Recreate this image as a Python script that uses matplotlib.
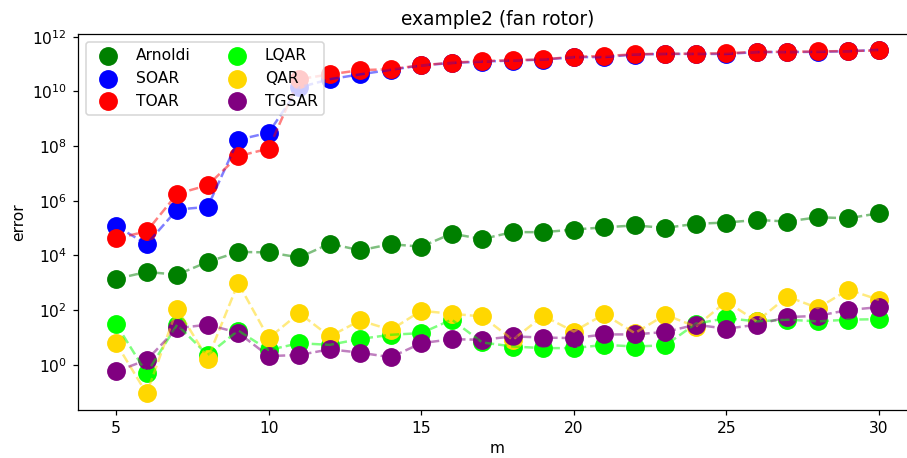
import matplotlib
matplotlib.use("Agg")
import matplotlib.pyplot as plt
import numpy as np

m = list(range(5, 31))

arnoldi = [1.4e3, 2.5e3, 2.0e3, 5.8e3, 1.35e4, 1.3e4, 8.5e3, 2.7e4, 1.55e4, 2.6e4,
           2.1e4, 6.3e4, 4.0e4, 7.2e4, 7.1e4, 8.9e4, 1.07e5, 1.26e5, 1.02e5, 1.45e5,
           1.6e5, 2.0e5, 1.75e5, 2.5e5, 2.3e5, 3.5e5]
soar = [1.2e5, 2.6e4, 4.8e5, 6.0e5, 1.7e8, 3.1e8, 1.4e10, 2.8e10, 4.2e10, 6.2e10,
        8.9e10, 1.1e11, 1.23e11, 1.35e11, 1.45e11, 1.8e11, 1.8e11, 2.24e11, 2.35e11, 2.35e11,
        2.35e11, 2.75e11, 2.75e11, 2.8e11, 2.95e11, 3.3e11]
toar = [4.2e4, 7.6e4, 1.8e6, 3.7e6, 4.3e7, 8.1e7, 2.8e10, 4.2e10, 6.0e10, 6.5e10,
        9.1e10, 1.12e11, 1.29e11, 1.38e11, 1.48e11, 1.86e11, 1.95e11, 2.29e11, 2.4e11, 2.4e11,
        2.5e11, 2.8e11, 2.8e11, 2.9e11, 3.0e11, 3.15e11]
lqar = [31, 0.5, 29.5, 2.3, 18, 3.5, 6.2, 5.4, 8.9, 12.6,
        14.5, 45, 6.6, 4.7, 4.1, 4.1, 5.4, 4.7, 5.2, 32,
        51, 39, 45, 39, 45, 47]
qar = [6.2, 0.09, 112, 1.7, 980, 9.5, 78, 11, 42, 19,
       95, 74, 59, 8.3, 62, 16.6, 72, 14.5, 68, 25,
       209, 39, 316, 120, 560, 240]
tgsar = [0.58, 1.5, 22, 29.5, 15, 2.1, 2.3, 3.7, 2.8, 1.9,
         6.2, 8.7, 8.3, 11, 10, 9.5, 13, 13, 16, 29.5,
         21, 29.5, 56, 62, 102, 129]

series = [("Arnoldi", arnoldi, "green"),
          ("SOAR", soar, "blue"),
          ("TOAR", toar, "red"),
          ("LQAR", lqar, "lime"),
          ("QAR", qar, "gold"),
          ("TGSAR", tgsar, "purple")]

DPI = 112
fig = plt.figure(figsize=(907/DPI, 458/DPI), dpi=DPI)
ax = fig.add_axes([78/907, 48/458, 839/907, 376/458])

for name, vals, col in series:
    ax.scatter(m, vals, s=123, color=col, label=name, zorder=1)
    ax.plot(m, vals, "--", color=col, alpha=0.5, lw=1.6, zorder=2)

ax.set_yscale("log")
ax.set_xlim(3.75, 31.25)
ax.set_ylim(10**-1.65, 10**12.1)
ax.set_xticks([5, 10, 15, 20, 25, 30])
ax.set_xlabel("m", labelpad=3)
ax.set_ylabel("error")
ax.set_title("example2 (fan rotor)")
ax.legend(loc="upper left", ncol=2)

fig.savefig("out.png", dpi=DPI)
